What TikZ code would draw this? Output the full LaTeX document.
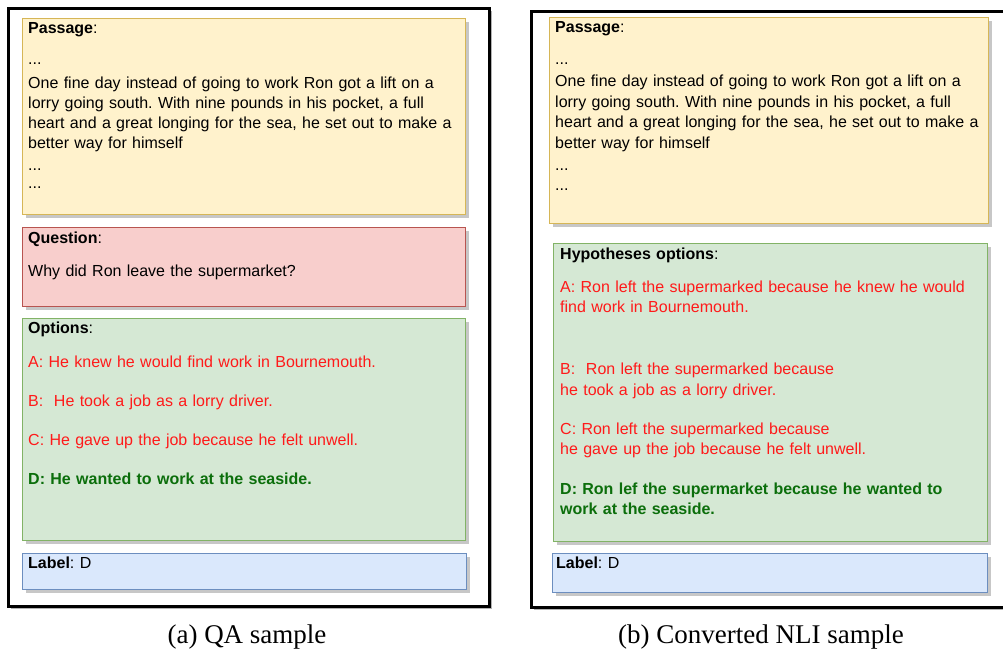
\documentclass[tikz,border=0pt]{standalone}
\usepackage{fontspec}
\setmainfont{Liberation Sans}
\newfontfamily\capfont{Liberation Serif}
\usetikzlibrary{shadows}
\frenchspacing
\definecolor{passfill}{HTML}{FFF2CC}
\definecolor{passline}{HTML}{D6B656}
\definecolor{quesfill}{HTML}{F8CECC}
\definecolor{quesline}{HTML}{B85450}
\definecolor{optfill}{HTML}{D5E8D4}
\definecolor{optline}{HTML}{82B366}
\definecolor{labfill}{HTML}{DAE8FC}
\definecolor{labline}{HTML}{6C8EBF}
\definecolor{optred}{HTML}{FF1A1A}
\definecolor{optgreen}{HTML}{0B6E0B}
\tikzset{
  panel/.style={draw=black, line width=2.5pt, fill=white, anchor=north west,
    drop shadow={shadow xshift=3pt, shadow yshift=-3pt, fill=black!30, opacity=1}},
  card/.style={line width=1pt, anchor=north west,
    drop shadow={shadow xshift=3pt, shadow yshift=-3pt, fill=black!22, opacity=1}},
  txt/.style={inner sep=0pt, text width=440pt, align=left, anchor=base west,
    font=\fontsize{16}{20}\selectfont},
  caption/.style={anchor=base, font=\capfont\fontsize{27}{32}\selectfont}
}
\begin{document}
\begin{tikzpicture}[x=1pt, y=-1pt]
    \useasboundingbox[fill=white] (0,0) rectangle (1003,653);
    % left: QA sample
    \node[panel, minimum width=481pt, minimum height=598pt] (qaframe) at (7,7) {};
    \node[card, fill=passfill, draw=passline, minimum width=443pt, minimum height=196pt] (qapass) at (22,18) {};
    \node[card, fill=quesfill, draw=quesline, minimum width=443pt, minimum height=79pt] (qaques) at (22,227) {};
    \node[card, fill=optfill, draw=optline, minimum width=443pt, minimum height=222pt] (qaopts) at (22,318) {};
    \node[card, fill=labfill, draw=labline, minimum width=444pt, minimum height=36pt] (qalab) at (22,553) {};
    \node[txt] (qapasstxt) at (28,33) {\textbf{Passage}:\\[11pt]
        ...\\[4pt]
        One fine day instead of going to work Ron got a lift on a\\
        lorry going south. With nine pounds in his pocket, a full\\
        heart and a great longing for the sea, he set out to make a\\
        better way for himself\\[2pt]
        ...\\[-2pt]
        ...};
    \node[txt] (qaquestxt) at (28,243) {\textbf{Question}:\\[13pt]
        Why did Ron leave the supermarket?};
    \node[txt] (qaoptstxt) at (28,333) {\textbf{Options}:\\[14pt]
        {\color{optred}A: He knew he would find work in Bournemouth.}\\[19pt]
        {\color{optred}B:~ He took a job as a lorry driver.}\\[19pt]
        {\color{optred}C: He gave up the job because he felt unwell.}\\[19pt]
        {\color{optgreen}\bfseries D: He wanted to work at the seaside.}};
    \node[txt] (qalabtxt) at (28,568) {\textbf{Label}: D};
    \node[caption] (capa) at (247,643) {(a) QA sample};
    % right: converted NLI sample
    \node[panel, minimum width=480pt, minimum height=596pt] (nliframe) at (530,10) {};
    \node[card, fill=passfill, draw=passline, minimum width=439pt, minimum height=206pt] (nlipass) at (549,17) {};
    \node[card, fill=optfill, draw=optline, minimum width=434pt, minimum height=298pt] (nlihyp) at (553,243) {};
    \node[card, fill=labfill, draw=labline, minimum width=435pt, minimum height=39pt] (nlilab) at (552,553) {};
    \node[txt] (nlipasstxt) at (555,32) {\textbf{Passage}:\\[12pt]
        ...\\[2pt]
        One fine day instead of going to work Ron got a lift on a\\[1pt]
        lorry going south. With nine pounds in his pocket, a full\\
        heart and a great longing for the sea, he set out to make a\\[1pt]
        better way for himself\\[2pt]
        ...\\
        ...};
    \node[txt] (nlihyptxt) at (560,259) {\textbf{Hypotheses options}:\\[13pt]
        {\color{optred}A: Ron left the supermarked because he knew he would\\
        find work in Bournemouth.}\\[42pt]
        {\color{optred}B:~ Ron left the supermarked because\\[1pt]
        he took a job as a lorry driver.}\\[19pt]
        {\color{optred}C: Ron left the supermarked because\\
        he gave up the job because he felt unwell.}\\[20pt]
        {\color{optgreen}\bfseries D: Ron lef the supermarket because he wanted to\\
        work at the seaside.}};
    \node[txt] (nlilabtxt) at (556,568) {\textbf{Label}: D};
    \node[caption] (capb) at (761,643) {(b) Converted NLI sample};
\end{tikzpicture}
\end{document}
